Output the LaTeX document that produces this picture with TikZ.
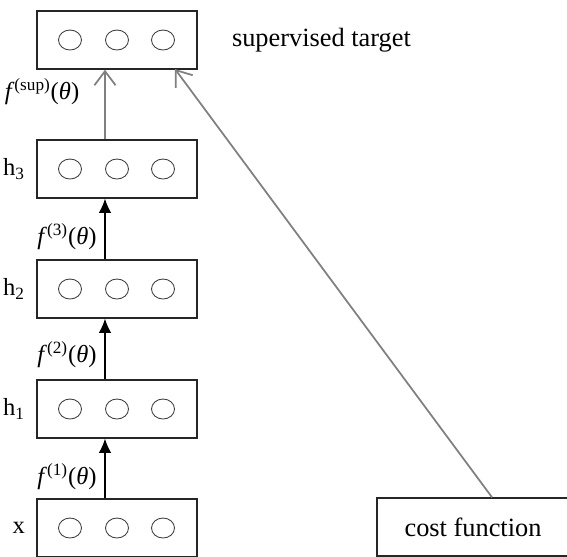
\documentclass[tikz,border=0pt]{standalone}
\usepackage{fontspec}
\setmainfont{Liberation Serif}
\usepackage{tikz}
\usetikzlibrary{positioning}
\usetikzlibrary{arrows.meta}
\usetikzlibrary{shapes.geometric}

\begin{document}
\begin{tikzpicture}[x=0.02cm, y=-0.02cm, font=\fontsize{15}{17}\selectfont]
    \tikzstyle{layer}=[draw=black!85, line width=0.8pt,
            minimum width=3.2cm, minimum height=1.16cm, inner sep=0pt]
    \tikzstyle{unit}=[ellipse, draw=black!75, line width=0.5pt,
            minimum width=0.46cm, minimum height=0.4cm, inner sep=0pt]
    \tikzstyle{feed}=[black, line width=0.6pt, -{Latex[length=8pt, width=7pt]}]
    \tikzstyle{super}=[gray, line width=1pt,
            -{Straight Barb[length=8pt, width=12pt, line width=1pt]}]
    \tikzstyle{fn}=[inner sep=0pt, font=\fontsize{14}{16}\selectfont]
    \tikzstyle{side}=[font=\fontsize{14}{16}\selectfont]

        \useasboundingbox (0,0) rectangle (567,556);
        \clip (0,0) rectangle (567,556);

        \coordinate (axis) at (105,0);
        \coordinate (costaxis) at (492,0);

        \foreach \n/\y/\lab in {x/528/x, h1/409/h\textsubscript{1},
                h2/289/h\textsubscript{2}, h3/169/h\textsubscript{3}, top/40/}
        {
            \node[layer] (\n) at (117,\y) {};
            \node[unit] (\n-1) at (70,\y) {};
            \node[unit] (\n-2) at (117,\y) {};
            \node[unit] (\n-3) at (163,\y) {};
            \node[side, left=3pt of \n] (\n-lab) {\lab};
        }

        \node[draw=black!85, line width=0.8pt, minimum width=3.84cm,
            minimum height=1.16cm] (cost) at (473,527) {cost function};
        \node[right=16pt of top] (target) {supervised target};

        % feed-forward layers
        \foreach \a/\b/\i/\y in {x/h1/1/477, h1/h2/2/355, h2/h3/3/237}
        {
            \draw[feed] (\a.north -| axis) -- (\b.south -| axis);
            \node[fn] (f\i) at (67,\y)
                {\textit{f}\textsuperscript{(\i)}(\textit{θ})};
        }

        \draw[super] (h3.north -| axis) -- (top.south -| axis);
        \node[fn] (fsup) at (42,92)
            {\textit{f}\textsuperscript{(sup)}(\textit{θ})};

        \coordinate (hit) at (175,69);
        \draw[super] (cost.north -| costaxis) -- (hit);
\end{tikzpicture}
\end{document}
